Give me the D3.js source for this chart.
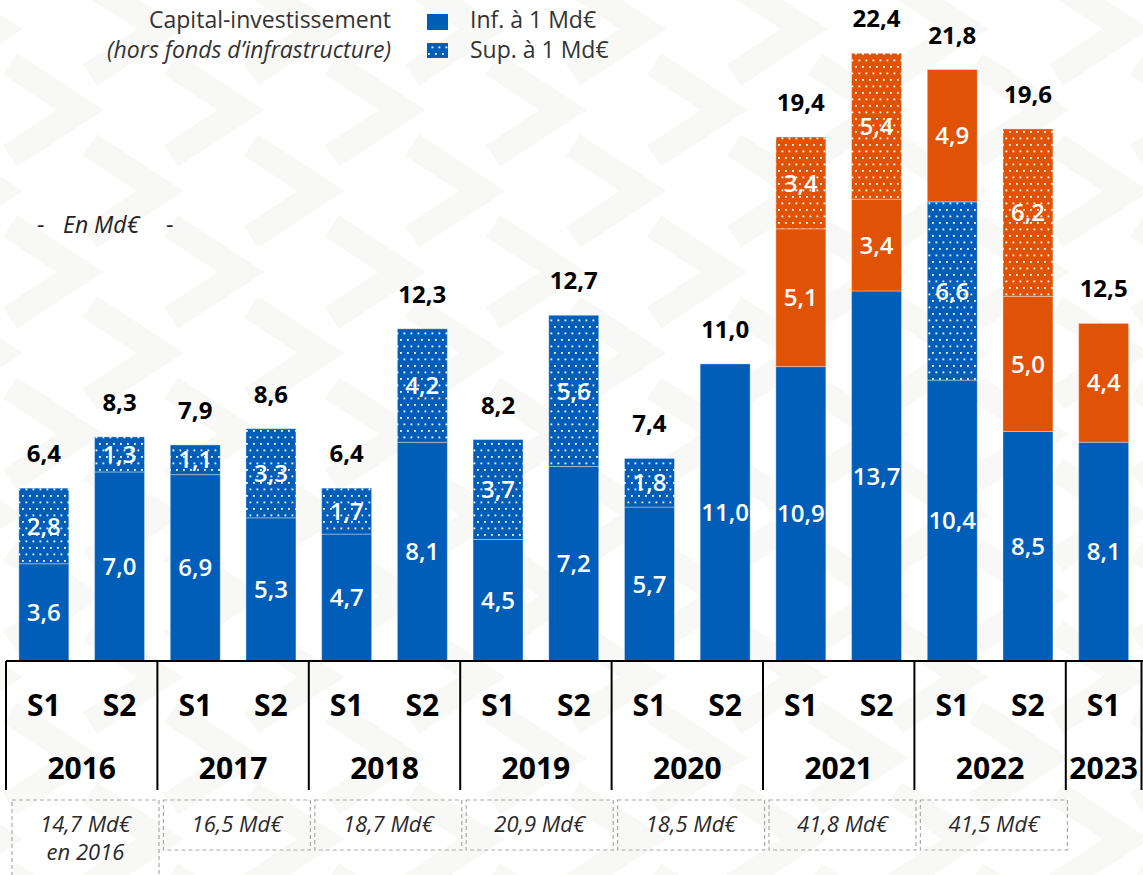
<!DOCTYPE html>
<html>
<head>
<meta charset="utf-8">
<script src="https://cdnjs.cloudflare.com/ajax/libs/d3/7.8.5/d3.min.js"></script>
<style>
  body { margin: 0; background: #fff; }
  svg { display: block; font-family: "Open Sans", sans-serif; }
</style>
</head>
<body>
<svg id="chart" width="1143" height="875"></svg>
<script>
// periods (half-years) and years
var periods = ["2016 S1", "2016 S2", "2017 S1", "2017 S2", "2018 S1", "2018 S2", "2019 S1", "2019 S2",
  "2020 S1", "2020 S2", "2021 S1", "2021 S2", "2022 S1", "2022 S2", "2023 S1"];
var years = ["2016", "2017", "2018", "2019", "2020", "2021", "2022", "2023"];
var yearTotals = [["14,7 Md€", "en 2016"], ["16,5 Md€"], ["18,7 Md€"], ["20,9 Md€"], ["18,5 Md€"], ["41,8 Md€"], ["41,5 Md€"]];

// series values (Md€)
var blueInf = [3.6, 7.0, 6.9, 5.3, 4.7, 8.1, 4.5, 7.2, 5.7, 11.0, 10.9, 13.7, 10.4, 8.5, 8.1];
var blueSup = [2.8, 1.3, 1.1, 3.3, 1.7, 4.2, 3.7, 5.6, 1.8, 0, 0, 0, 6.6, 0, 0];
var orangeInf = [0, 0, 0, 0, 0, 0, 0, 0, 0, 0, 5.1, 3.4, 4.9, 5.0, 4.4];
var orangeSup = [0, 0, 0, 0, 0, 0, 0, 0, 0, 0, 3.4, 5.4, 0, 6.2, 0];
var totals = [6.4, 8.3, 7.9, 8.6, 6.4, 12.3, 8.2, 12.7, 7.4, 11.0, 19.4, 22.4, 21.8, 19.6, 12.5];

var BLUE = "#005db8", ORANGE = "#e05206";
var fmt = function (v) { return v.toFixed(1).replace(".", ","); };

var svg = d3.select("#chart");
var defs = svg.append("defs");

// dotted patterns
[["dotBlue", BLUE], ["dotOrange", ORANGE]].forEach(function (p) {
  var pat = defs.append("pattern")
    .attr("id", p[0]).attr("patternUnits", "userSpaceOnUse")
    .attr("width", 7).attr("height", 13);
  pat.append("rect").attr("width", 7).attr("height", 13).attr("fill", p[1]);
  pat.append("rect").attr("x", 1).attr("y", 1).attr("width", 1.8).attr("height", 1.8).attr("fill", "#fff");
  pat.append("rect").attr("x", 4.5).attr("y", 7.5).attr("width", 1.8).attr("height", 1.8).attr("fill", "#fff");
});

// faint chevron background
var bg = svg.append("g").attr("class", "background");
for (var r = -1; r < 12; r++) {
  for (var c = -1; c < 9; c++) {
    var tx = c * 161 + (r % 2 ? 80 : 0) + 80, ty = r * 81 + 110;
    bg.append("path")
      .attr("d", "M" + (tx - 70) + "," + (ty - 46) + "L" + tx + "," + ty + "L" + (tx - 70) + "," + (ty + 46))
      .attr("fill", "none").attr("stroke", "#f8f8f7").attr("stroke-width", 26);
  }
}

var baseY = 661;
var x = d3.scaleBand().domain(periods).range([6, 1141.5]).paddingInner(0.34).paddingOuter(0.17);
var y = d3.scaleLinear().domain([0, 22.4]).range([baseY, 56]);

var series = [
  { key: "blueInf", values: blueInf, fill: BLUE },
  { key: "blueSup", values: blueSup, fill: "url(#dotBlue)" },
  { key: "orangeInf", values: orangeInf, fill: ORANGE },
  { key: "orangeSup", values: orangeSup, fill: "url(#dotOrange)" }
];

var table = periods.map(function (p, i) {
  var row = { period: p };
  series.forEach(function (s) { row[s.key] = s.values[i]; });
  return row;
});
var stack = d3.stack().keys(series.map(function (s) { return s.key; }))(table);

var layers = svg.append("g").selectAll("g")
  .data(stack).enter().append("g")
  .attr("fill", function (d, i) { return series[i].fill; });

layers.selectAll("rect")
  .data(function (d) { return d.filter(function (e) { return e[1] - e[0] > 0; }); })
  .enter().append("rect")
  .attr("x", function (d) { return x(d.data.period); })
  .attr("width", x.bandwidth())
  .attr("y", function (d) { return y(d[1]); })
  .attr("height", function (d) { return y(d[0]) - y(d[1]); })
  .attr("stroke", "rgba(255,255,255,0.35)").attr("stroke-width", 1);

layers.selectAll("text")
  .data(function (d) { return d.filter(function (e) { return e[1] - e[0] > 0; }); })
  .enter().append("text")
  .attr("x", function (d) { return x(d.data.period) + x.bandwidth() / 2; })
  .attr("y", function (d) { return (y(d[0]) + y(d[1])) / 2; })
  .attr("dy", "0.36em")
  .attr("text-anchor", "middle")
  .attr("fill", "#fff").attr("font-size", 24).attr("font-weight", 600)
  .text(function (d) { return fmt(d[1] - d[0]); });

// totals above bars
svg.append("g").selectAll("text")
  .data(periods).enter().append("text")
  .attr("x", function (d) { return x(d) + x.bandwidth() / 2; })
  .attr("y", function (d, i) { return y(d3.sum(series, function (s) { return s.values[i]; })) - 26; })
  .attr("text-anchor", "middle")
  .attr("font-size", 24).attr("font-weight", 700).attr("fill", "#000")
  .text(function (d, i) { return fmt(totals[i]); });

// axis frame
var step = x.step();
var axis = svg.append("g");
axis.append("line")
  .attr("x1", 6).attr("x2", 1143).attr("y1", baseY).attr("y2", baseY)
  .attr("stroke", "#000").attr("stroke-width", 2);
var bounds = d3.range(years.length).map(function (k) { return 6 + 2 * k * step; }).concat([1141.5]);
axis.selectAll("line.sep")
  .data(bounds).enter().append("line")
  .attr("class", "sep")
  .attr("x1", function (d) { return d; }).attr("x2", function (d) { return d; })
  .attr("y1", baseY).attr("y2", 790)
  .attr("stroke", "#000").attr("stroke-width", 2);

axis.selectAll("text.half")
  .data(periods).enter().append("text")
  .attr("class", "half")
  .attr("x", function (d) { return x(d) + x.bandwidth() / 2; })
  .attr("y", 705).attr("dy", "0.36em")
  .attr("text-anchor", "middle")
  .attr("font-size", 30).attr("font-weight", 700)
  .text(function (d) { return d.split(" ")[1]; });

axis.selectAll("text.year")
  .data(years).enter().append("text")
  .attr("class", "year")
  .attr("x", function (d, i) { return (bounds[i] + bounds[i + 1]) / 2; })
  .attr("y", 768).attr("dy", "0.36em")
  .attr("text-anchor", "middle")
  .attr("font-size", 30).attr("font-weight", 700)
  .text(function (d) { return d; });

// annual totals in dashed boxes
var boxes = svg.append("g").selectAll("g")
  .data(yearTotals).enter().append("g");
boxes.append("rect")
  .attr("x", function (d, i) { return bounds[i] + 6; })
  .attr("y", 800)
  .attr("width", 147)
  .attr("height", function (d, i) { return i === 0 ? 80 : 50; })
  .attr("fill", "none").attr("stroke", "#aaa").attr("stroke-width", 1.2)
  .attr("stroke-dasharray", "4,3");
boxes.selectAll("text")
  .data(function (d, i) { return d.map(function (t, j) { return { t: t, j: j, i: i }; }); })
  .enter().append("text")
  .attr("x", function (d) { return bounds[d.i] + 6 + 73.5; })
  .attr("y", function (d) { return 825 + d.j * 28; })
  .attr("dy", "0.34em")
  .attr("text-anchor", "middle")
  .attr("font-size", 22).attr("font-style", "italic").attr("fill", "#2a2a2a")
  .text(function (d) { return d.t; });

// legend
var legend = svg.append("g").attr("fill", "#333");
legend.append("text").attr("x", 391).attr("y", 20).attr("dy", "0.36em")
  .attr("text-anchor", "end").attr("font-size", 23).text("Capital-investissement");
legend.append("text").attr("x", 391).attr("y", 50).attr("dy", "0.36em")
  .attr("text-anchor", "end").attr("font-size", 23).attr("font-style", "italic")
  .text("(hors fonds d’infrastructure)");
legend.append("rect").attr("x", 427).attr("y", 14).attr("width", 21).attr("height", 16).attr("fill", BLUE);
legend.append("rect").attr("x", 427).attr("y", 43).attr("width", 21).attr("height", 15).attr("fill", "url(#dotBlue)");
legend.append("text").attr("x", 470).attr("y", 20).attr("dy", "0.36em").attr("font-size", 23).text("Inf. à 1 Md€");
legend.append("text").attr("x", 470).attr("y", 50).attr("dy", "0.36em").attr("font-size", 23).text("Sup. à 1 Md€");

// unit note
var unit = svg.append("g").attr("fill", "#222").attr("font-size", 23);
unit.append("text").attr("x", 37).attr("y", 225).attr("dy", "0.36em").text("-");
unit.append("text").attr("x", 63).attr("y", 225).attr("dy", "0.36em").attr("font-style", "italic").text("En Md€");
unit.append("text").attr("x", 166).attr("y", 225).attr("dy", "0.36em").text("-");
</script>
</body>
</html>
